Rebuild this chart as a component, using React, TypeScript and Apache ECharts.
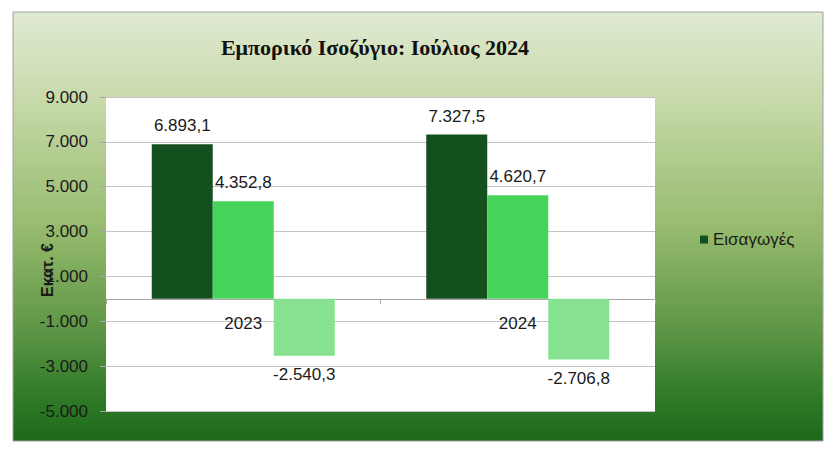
import React, { useEffect, useRef } from "react";
import * as echarts from "echarts";

const categories = ["2023", "2024"];
const seriesNames = ["Εισαγωγές", "Εξαγωγές", "Ισοζύγιο"];
const imports = [6893.1, 7327.5];
const exportsV = [4352.8, 4620.7];
const balance = [-2540.3, -2706.8];
const colors = ["#14501e", "#46d45a", "#86e290"];

const Y_MIN = -5000;
const Y_MAX = 9000;
const GRID_TOP = 97;
const GRID_BOTTOM = 49;
const CHART_H = 460;

const fmtNum = (v: number, dec: number) => {
  const neg = v < 0;
  const a = Math.abs(v);
  const fixed = a.toFixed(dec);
  const [ip, dp] = fixed.split(".");
  const withDots = ip.replace(/\B(?=(\d{3})+(?!\d))/g, ".");
  return (neg ? "-" : "") + withDots + (dp ? "," + dp : "");
};

export default function App() {
  const ref = useRef<HTMLDivElement>(null);
  useEffect(() => {
    document.body.style.margin = "0";
    const chart = echarts.init(ref.current!, null, { renderer: "svg" });
    const font = "'Liberation Sans', Arial, sans-serif";
    const plotH = CHART_H - GRID_TOP - GRID_BOTTOM;
    const zeroOffset = -(plotH * (0 - Y_MIN)) / (Y_MAX - Y_MIN);
    const mk = (name: string, data: number[], color: string) => ({
      name,
      type: "bar",
      barWidth: 61,
      barGap: "0%",
      itemStyle: { color },
      data: data.map((v) => ({
        value: v,
        label: { position: v < 0 ? "bottom" : "top" },
      })),
      label: {
        show: true,
        distance: 10,
        fontFamily: font,
        fontSize: 17,
        color: "#1a1a1a",
        formatter: (p: any) => fmtNum(p.value, 1),
      },
    });
    chart.setOption({
      animation: false,
      backgroundColor: "#ffffff",
      graphic: [
        {
          type: "rect",
          z: -10,
          shape: { x: 13, y: 12, width: 810, height: 429 },
          style: {
            fill: new echarts.graphic.LinearGradient(0, 0, 0, 1, [
              { offset: 0, color: "#e0ead2" },
              { offset: 0.2, color: "#c8daab" },
              { offset: 0.5, color: "#97bb6e" },
              { offset: 0.75, color: "#5b9444" },
              { offset: 0.9, color: "#2f7a27" },
              { offset: 1, color: "#1c6a1a" },
            ]),
            stroke: "#a0a0a0",
            lineWidth: 1,
          },
        },
        {
          type: "text",
          x: 47,
          y: 270,
          rotation: Math.PI / 2,
          style: {
            text: "Εκατ. €",
            fontFamily: font,
            fontWeight: "bold",
            fontSize: 16,
            fill: "#1a1a1a",
            align: "center",
            verticalAlign: "middle",
          },
        },
      ],
      title: {
        text: "Εμπορικό Ισοζύγιο: Ιούλιος 2024",
        left: 370,
        top: 31,
        textAlign: "center",
        textStyle: {
          fontFamily: "'Liberation Serif', 'Times New Roman', serif",
          fontWeight: "bold",
          fontSize: 22,
          color: "#111",
        },
      },
      legend: {
        data: [seriesNames[0]],
        left: 695,
        top: 226,
        icon: "rect",
        itemWidth: 8,
        itemHeight: 8,
        itemGap: 5,
        textStyle: { fontFamily: font, fontSize: 17, color: "#1a1a1a" },
      },
      grid: {
        left: 106,
        right: 182,
        top: GRID_TOP,
        bottom: GRID_BOTTOM,
        show: true,
        backgroundColor: "#ffffff",
        borderWidth: 0,
      },
      xAxis: [
        {
          type: "category",
          data: categories,
          axisLine: { onZero: true, lineStyle: { color: "#a6a6a6", width: 1 } },
          axisTick: { show: true, length: 5, lineStyle: { color: "#a6a6a6" } },
          axisLabel: { show: false },
        },
        {
          type: "category",
          data: categories,
          position: "bottom",
          offset: zeroOffset,
          axisLine: { show: false, onZero: false },
          axisTick: { show: false },
          axisLabel: { fontFamily: font, fontSize: 17, color: "#1a1a1a", margin: 16 },
        },
      ],
      yAxis: {
        type: "value",
        min: Y_MIN,
        max: Y_MAX,
        interval: 2000,
        axisLine: { show: false },
        axisTick: { show: true, length: 6, lineStyle: { color: "#a6a6a6" } },
        splitLine: { lineStyle: { color: "#c4c4c4", width: 1 } },
        axisLabel: {
          fontFamily: font,
          fontSize: 17,
          color: "#1a1a1a",
          margin: 18,
          formatter: (v: number) => fmtNum(v, 0),
        },
      },
      series: [
        mk(seriesNames[0], imports, colors[0]),
        mk(seriesNames[1], exportsV, colors[1]),
        mk(seriesNames[2], balance, colors[2]),
      ],
    });
    return () => chart.dispose();
  }, []);
  return <div ref={ref} style={{ width: 837, height: 460 }} />;
}
